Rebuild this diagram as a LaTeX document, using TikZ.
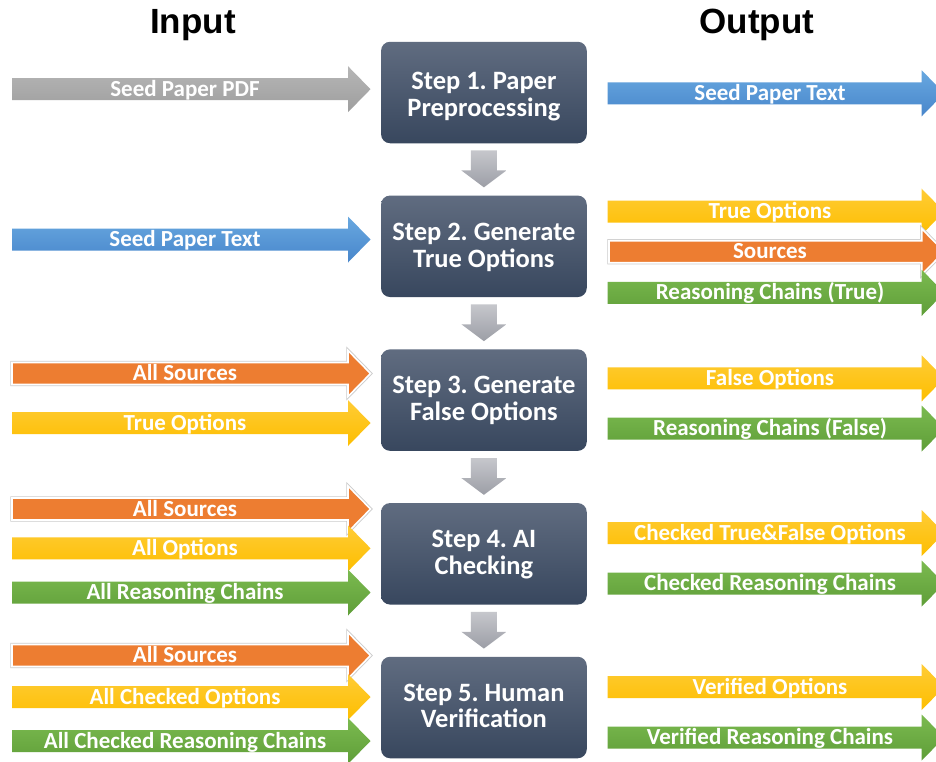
\documentclass[tikz,border=0pt]{standalone}
\usepackage{fontspec}
\setmainfont{Carlito}
\newfontfamily\hdrfont{Liberation Sans}
\usetikzlibrary{calc}
\frenchspacing
\definecolor{grayA}{HTML}{B6B6B6}
\definecolor{grayB}{HTML}{9E9E9E}
\definecolor{blueA}{HTML}{68A8E0}
\definecolor{blueB}{HTML}{4886CB}
\definecolor{orangeC}{HTML}{ED7D31}
\definecolor{yellowA}{HTML}{FFCC36}
\definecolor{yellowB}{HTML}{FDBE00}
\definecolor{greenA}{HTML}{7BBA50}
\definecolor{greenB}{HTML}{5F9E38}
\definecolor{boxA}{HTML}{606C80}
\definecolor{boxB}{HTML}{38475E}
\definecolor{downA}{HTML}{C6C7CC}
\definecolor{downB}{HTML}{9C9EA6}
\tikzset{
  grayarr/.style={top color=grayA,bottom color=grayB},
  bluearr/.style={top color=blueA,bottom color=blueB},
  orangearr/.style={preaction={draw=black!20,line width=3.4pt},draw=white,line width=1.6pt,fill=orangeC},
  yellowarr/.style={top color=yellowA,bottom color=yellowB},
  greenarr/.style={top color=greenA,bottom color=greenB},
  arrtxt/.style={text=white,font=\fontsize{23}{23}\selectfont\bfseries,inner sep=0pt,anchor=base},
  stepbox/.style={minimum width=205.7pt,minimum height=101.5pt,rounded corners=9pt,top color=boxA,bottom color=boxB,inner sep=0pt},
  steptxt/.style={text=white,font=\fontsize{26.5}{26.5}\selectfont\bfseries,inner sep=0pt,anchor=base},
  downarr/.style={top color=downA,bottom color=downB},
  hdr/.style={font=\hdrfont\fontsize{35}{35}\selectfont\bfseries,inner sep=0pt,anchor=base}
}
% #1 style, #2 name, #3 x left, #4 x head base, #5 y centre, #6 text x, #7 text
\newcommand\harrow[7]{%
  \path[#1] (#3,#5-11) -- (#4,#5-11) -- (#4,#5-23) -- (#4+22.5,#5) -- (#4,#5+23) -- (#4,#5+11) -- (#3,#5+11) -- cycle;
  \node[arrtxt] (#2) at (#6,#5+7) {#7};}
% #1 upper box, #2 lower box
\newcommand\stepdown[2]{%
  \path[downarr] ($(#1.south)+(-13,7)$) -- ($(#1.south)+(13,7)$) -- ($(#1.south)+(13,27)$) -- ($(#1.south)+(22.5,27)$)
    -- ($(#2.north)+(0,-8)$) -- ($(#1.south)+(-22.5,27)$) -- ($(#1.south)+(-13,27)$) -- cycle;}
\begin{document}
\begin{tikzpicture}[x=1pt,y=-1pt]
\useasboundingbox (0,0) rectangle (936,761);
\clip (0,0) rectangle (936,761);
\fill[white] (0,0) rectangle (936,761);

% headers
\node[hdr] (hin) at (193,33) {Input};
\node[hdr] (hout) at (757,33) {Output};

% step boxes
\node[stepbox] (s1) at (483.9,92.5) {};
\node[stepbox] (s2) at (483.9,246.3) {};
\node[stepbox] (s3) at (483.9,400.1) {};
\node[stepbox] (s4) at (483.9,553.8) {};
\node[stepbox] (s5) at (483.9,707.5) {};

\node[steptxt] (s1a) at (483.9,89.2) {Step 1. Paper};
\node[steptxt] (s1b) at (483.9,116) {Preprocessing};
\node[steptxt] (s2a) at (483.9,240) {Step 2. Generate};
\node[steptxt] (s2b) at (483.9,267) {True Options};
\node[steptxt] (s3a) at (483.9,393.8) {Step 3. Generate};
\node[steptxt] (s3b) at (483.9,420.8) {False Options};
\node[steptxt] (s4a) at (483.9,547.5) {Step 4. AI};
\node[steptxt] (s4b) at (483.9,574.5) {Checking};
\node[steptxt] (s5a) at (483.9,701.5) {Step 5. Human};
\node[steptxt] (s5b) at (483.9,727.5) {Verification};

% down arrows
\stepdown{s1}{s2}
\stepdown{s2}{s3}
\stepdown{s3}{s4}
\stepdown{s4}{s5}

% input arrows
\harrow{grayarr}{i1}{12}{348}{89.2}{185}{Seed Paper PDF}
\harrow{bluearr}{i2}{12}{348}{239.5}{185}{Seed Paper Text}
\harrow{orangearr}{i3}{12}{348}{373.5}{185}{All Sources}
\harrow{yellowarr}{i4}{12}{348}{423}{185}{True Options}
\harrow{orangearr}{i5}{12}{348}{509}{185}{All Sources}
\harrow{yellowarr}{i6}{12}{348}{548.3}{185}{All Options}
\harrow{greenarr}{i7}{12}{348}{592.5}{185}{All Reasoning Chains}
\harrow{orangearr}{i8}{12}{348}{655.5}{185}{All Sources}
\harrow{yellowarr}{i9}{12}{348}{697}{185}{All Checked Options}
\harrow{greenarr}{i10}{12}{348}{741}{185}{All Checked Reasoning Chains}

% output arrows
\harrow{bluearr}{o1}{607.5}{921.7}{93.3}{770}{Seed Paper Text}
\harrow{yellowarr}{o2}{607.5}{921.7}{211.7}{770}{True Options}
\harrow{orangearr}{o3}{609}{921.7}{251.7}{770}{Sources}
\harrow{greenarr}{o4}{607.5}{921.7}{292.8}{770}{Reasoning Chains (True)}
\harrow{yellowarr}{o5}{607.5}{921.7}{378.3}{770}{False Options}
\harrow{greenarr}{o6}{607.5}{921.7}{428.5}{770}{Reasoning Chains (False)}
\harrow{yellowarr}{o7}{607.5}{921.7}{533}{770}{Checked True\&False Options}
\harrow{greenarr}{o8}{607.5}{921.7}{583.5}{770}{Checked Reasoning Chains}
\harrow{yellowarr}{o9}{607.5}{921.7}{687}{770}{Verified Options}
\harrow{greenarr}{o10}{607.5}{921.7}{737.5}{770}{Verified Reasoning Chains}
\end{tikzpicture}
\end{document}
